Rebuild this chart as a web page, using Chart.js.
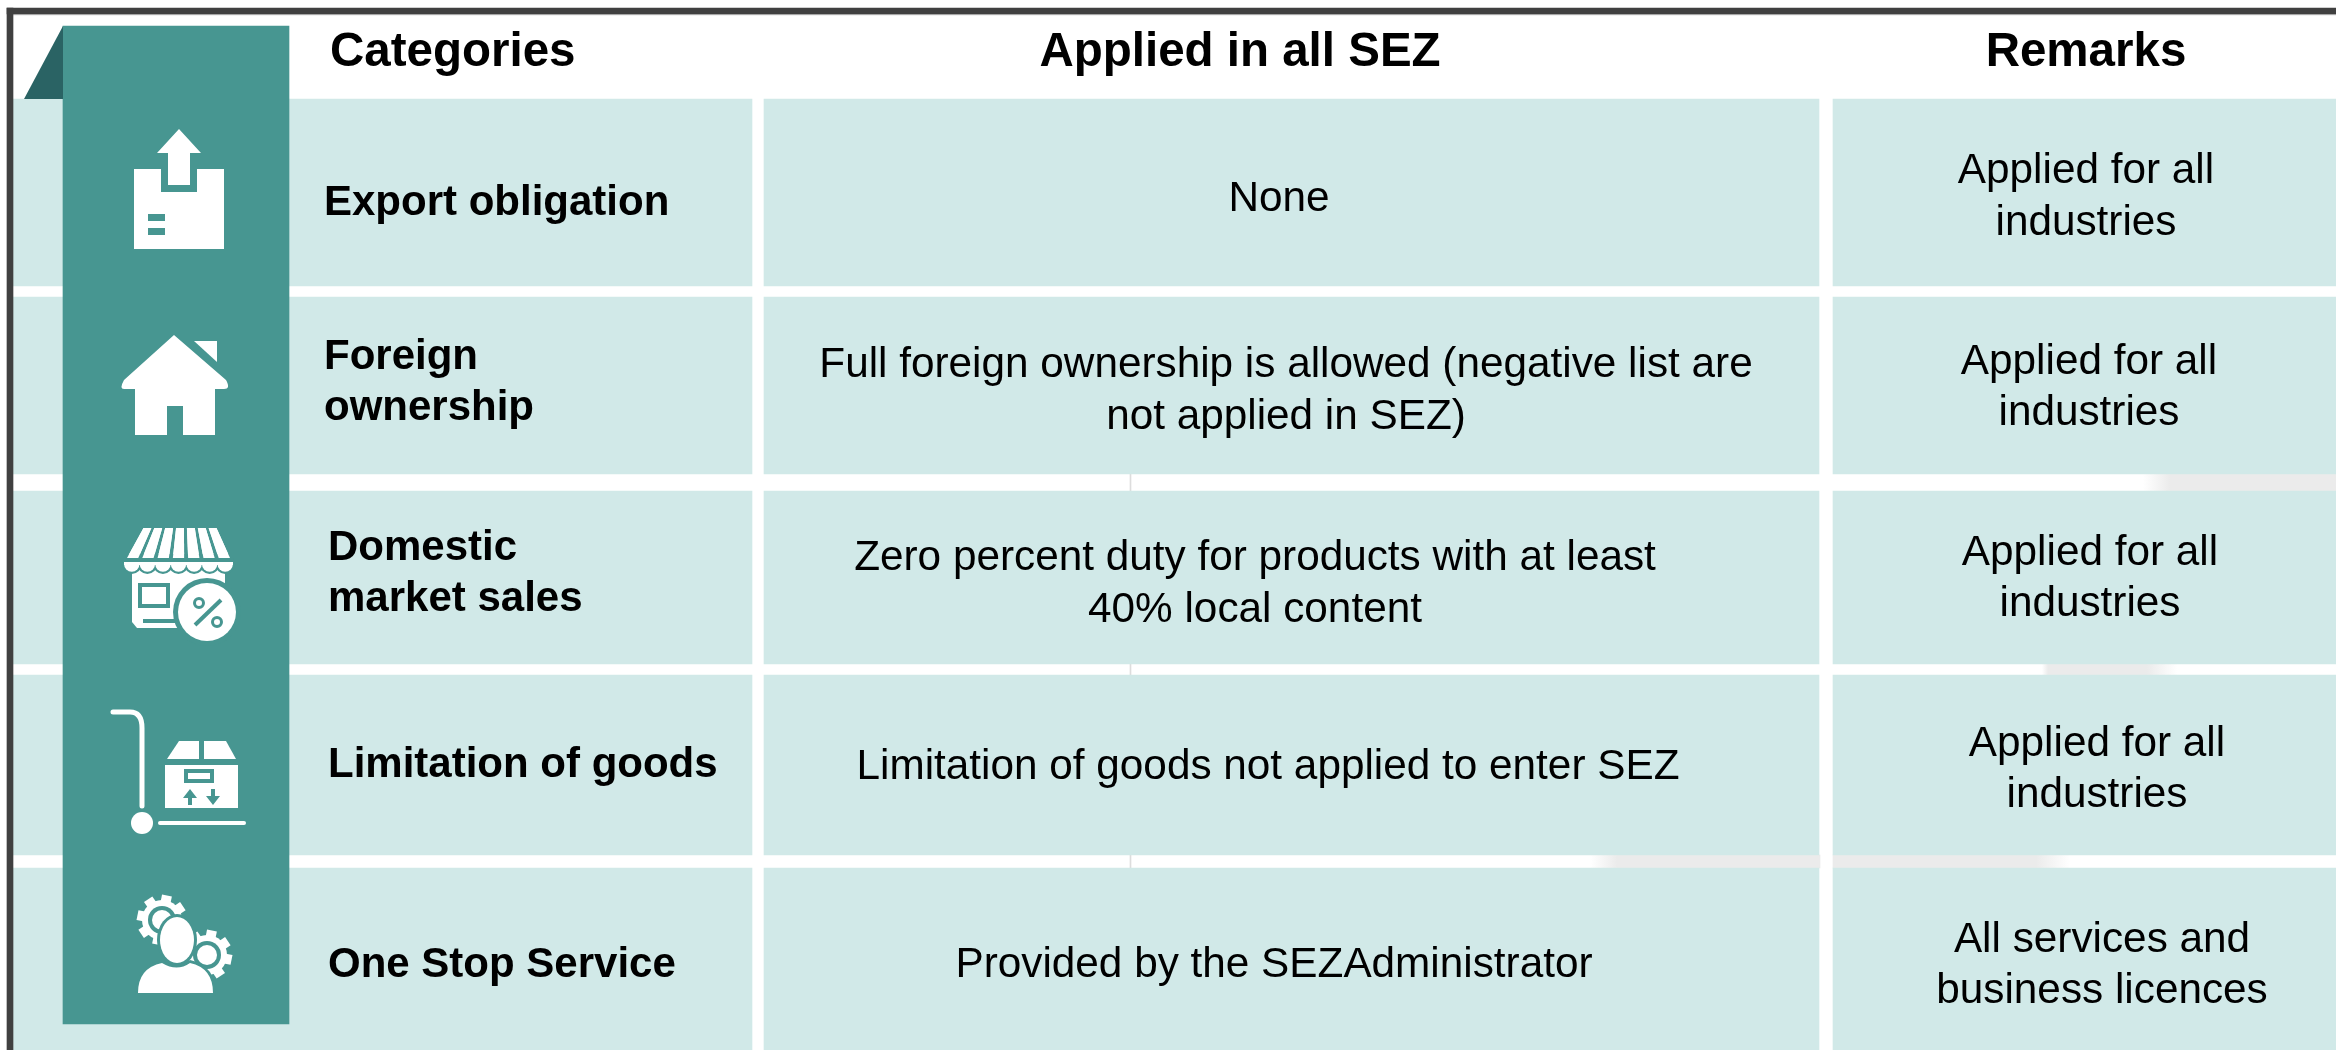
<!DOCTYPE html>
<html>
<head>
<meta charset="utf-8">
<title>SEZ categories</title>
<script src="https://cdn.jsdelivr.net/npm/chart.js@4"></script>
<style>
  html, body { margin: 0; padding: 0; background: #fff; overflow: hidden; }
  #wrap { width: 2336px; height: 1050px; }
</style>
</head>
<body>
<div id="wrap"><canvas id="myChart" width="2336" height="1050"></canvas></div>
<script>
// ----- table content -----
const headers = ['Categories', 'Applied in all SEZ', 'Remarks'];
const categories = [
  ['Export obligation'],
  ['Foreign', 'ownership'],
  ['Domestic', 'market sales'],
  ['Limitation of goods'],
  ['One Stop Service']
];
const appliedInAllSez = [
  ['None'],
  ['Full foreign ownership is allowed (negative list are', 'not applied in SEZ)'],
  ['Zero percent duty for products with at least', '40% local content'],
  ['Limitation of goods not applied to enter SEZ'],
  ['Provided by the SEZAdministrator']
];
const remarks = [
  ['Applied for all', 'industries'],
  ['Applied for all', 'industries'],
  ['Applied for all', 'industries'],
  ['Applied for all', 'industries'],
  ['All services and', 'business licences']
];

// ----- layout (scale units = pixels of the page) -----
const rowTop = [99, 297, 491, 675, 868];
const rowBottom = [286, 474, 664, 855, 1050];
const colLeft = [13, 764, 1833];
const colRight = [752, 1819, 2336];
const categoryX = [324, 324, 328, 328, 328];
const categoryY = [[215], [369, 420], [560, 611], [777], [977]];
const appliedX = [1279, 1286, 1255, 1268, 1274];
const appliedY = [[211], [377, 429], [570, 622], [779], [977]];
const remarksX = [2086, 2089, 2090, 2097, 2102];
const remarksY = [[183, 235], [374, 425], [565, 616], [756, 807], [952, 1003]];
const headerX = [330, 1240, 2086];
const headerY = 66;

const CELL = '#d1e9e8', RIBBON = '#479691', FOLD = '#2a6364', FRAME = '#404040', SMUDGE = '#ebebeb';

const canvas = document.getElementById('myChart');
const context = canvas.getContext('2d');

// one floating horizontal bar
function band(x0, x1, y0, y1, color) {
  return {
    data: [{x: [x0, x1], y: (y0 + y1) / 2}],
    barThickness: y1 - y0,
    backgroundColor: color,
    borderWidth: 0
  };
}

// grey band fading out at its ends
function smudge(x0, x1, fadeLeft, fadeRight) {
  const g = context.createLinearGradient(x0, 0, x1, 0);
  const w = x1 - x0;
  g.addColorStop(0, fadeLeft ? '#ffffff' : SMUDGE);
  g.addColorStop(fadeLeft / w, SMUDGE);
  g.addColorStop(1 - fadeRight / w, SMUDGE);
  g.addColorStop(1, fadeRight ? '#ffffff' : SMUDGE);
  return g;
}

// first dataset ends up on top
const datasets = [];
datasets.push(band(63, 289, 26, 1024, RIBBON));
datasets.push(band(7, 13, 8, 1050, FRAME));
datasets.push(band(7, 2336, 8, 14, FRAME));
datasets.push(band(13, 2336, 14, 15, '#c8c8c8'));
rowTop.forEach((top, r) => {
  colLeft.forEach((left, c) => datasets.push(band(left, colRight[c], top, rowBottom[r], CELL)));
});
// faint marks left in the gaps between rows
datasets.push(band(2143, 2336, 474, 491, smudge(2143, 2336, 27, 0)));
datasets.push(band(2042, 2177, 664, 675, smudge(2042, 2177, 6, 30)));
datasets.push(band(1591, 1820, 855, 868, smudge(1591, 1820, 26, 0)));
datasets.push(band(1833, 2070, 855, 868, smudge(1833, 2070, 0, 34)));
[[474, 491], [664, 675], [855, 868]].forEach(g => datasets.push(band(1130, 1131, g[0], g[1], '#dddddd')));

// ----- small drawing helpers for the icons -----
function poly(ctx, pts, color) {
  ctx.fillStyle = color;
  ctx.beginPath();
  pts.forEach((p, i) => i ? ctx.lineTo(p[0], p[1]) : ctx.moveTo(p[0], p[1]));
  ctx.closePath();
  ctx.fill();
}
function rect(ctx, x0, y0, x1, y1, color) {
  ctx.fillStyle = color;
  ctx.fillRect(x0, y0, x1 - x0, y1 - y0);
}
function circle(ctx, x, y, r, color) {
  ctx.fillStyle = color;
  ctx.beginPath();
  ctx.arc(x, y, r, 0, Math.PI * 2);
  ctx.fill();
}
function gear(ctx, cx, cy) {
  for (let i = 0; i < 8; i++) {
    ctx.save();
    ctx.translate(cx, cy);
    ctx.rotate(i * Math.PI / 4 + 0.2);
    rect(ctx, -5, -25, 5, -17, '#fff');
    ctx.restore();
  }
  circle(ctx, cx, cy, 20, '#fff');
  circle(ctx, cx, cy, 14, RIBBON);
  circle(ctx, cx, cy, 10, '#fff');
}
function person(ctx, grow, color) {
  ctx.fillStyle = color;
  ctx.beginPath();
  ctx.ellipse(177, 940, 17 + grow, 23 + grow, 0, 0, Math.PI * 2);
  ctx.fill();
  ctx.beginPath();
  ctx.moveTo(138 - grow, 993 + grow);
  ctx.quadraticCurveTo(138 - grow, 968 - grow, 162, 963 - grow);
  ctx.quadraticCurveTo(177, 972 - grow, 190, 963 - grow);
  ctx.quadraticCurveTo(213 + grow, 968 - grow, 213 + grow, 993 + grow);
  ctx.closePath();
  ctx.fill();
}

function iconExport(ctx) {
  poly(ctx, [[134, 169], [161, 169], [161, 192], [197, 192], [197, 169], [224, 169], [224, 249], [134, 249]], '#fff');
  poly(ctx, [[179, 129], [201, 153], [190, 153], [190, 185], [168, 185], [168, 153], [157, 153]], '#fff');
  rect(ctx, 148, 214, 165, 221, RIBBON);
  rect(ctx, 148, 228, 165, 235, RIBBON);
}
function iconHouse(ctx) {
  ctx.fillStyle = '#fff';
  ctx.beginPath();
  ctx.moveTo(174, 335);
  ctx.lineTo(226, 380);
  ctx.quadraticCurveTo(231, 389, 224, 389);
  ctx.lineTo(215, 389);
  ctx.lineTo(215, 435);
  ctx.lineTo(183, 435);
  ctx.lineTo(183, 406);
  ctx.lineTo(167, 406);
  ctx.lineTo(167, 435);
  ctx.lineTo(135, 435);
  ctx.lineTo(135, 389);
  ctx.lineTo(124, 389);
  ctx.quadraticCurveTo(119, 389, 124, 380);
  ctx.closePath();
  ctx.fill();
  poly(ctx, [[194, 341], [217, 341], [217, 362]], '#fff');
}
function iconShop(ctx) {
  // awning stripes fan out from the top
  for (let i = 0; i < 7; i++) {
    const tw = 76 / 7, bw = 107 / 7;
    poly(ctx, [[142 + i * tw + 1.5, 528], [142 + (i + 1) * tw - 1.5, 528],
               [125 + (i + 1) * bw - 2, 558], [125 + i * bw + 2, 558]], '#fff');
  }
  // shop body, scallops cut into its top
  poly(ctx, [[132, 568], [225, 568], [225, 628], [137, 628], [132, 622]], '#fff');
  const sw = 109 / 7;
  for (let i = 0; i < 7; i++) circle(ctx, 124 + (i + 0.5) * sw, 564, 10, RIBBON);
  for (let i = 0; i < 7; i++) circle(ctx, 124 + (i + 0.5) * sw, 564, 7.7, '#fff');
  rect(ctx, 124, 554, 233, 562, RIBBON);
  // repaint stripe ends above the scallop strip
  for (let i = 0; i < 7; i++) {
    const tw = 76 / 7, bw = 107 / 7;
    poly(ctx, [[142 + i * tw + 1.5, 528], [142 + (i + 1) * tw - 1.5, 528],
               [125 + (i + 1) * bw - 2, 558], [125 + i * bw + 2, 558]], '#fff');
  }
  rect(ctx, 124, 562, 233, 565, '#fff');
  // window and slot
  rect(ctx, 138, 583, 170, 608, RIBBON);
  rect(ctx, 142, 587, 166, 604, '#fff');
  rect(ctx, 143, 619, 180, 623, RIBBON);
  // percent badge
  circle(ctx, 207, 612, 34, RIBBON);
  circle(ctx, 207, 612, 29, '#fff');
  ctx.strokeStyle = RIBBON;
  ctx.lineWidth = 4;
  ctx.beginPath();
  ctx.moveTo(195, 625);
  ctx.lineTo(221, 600);
  ctx.stroke();
  ctx.lineWidth = 3;
  ctx.beginPath();
  ctx.arc(199, 603, 4.5, 0, Math.PI * 2);
  ctx.stroke();
  ctx.beginPath();
  ctx.arc(217, 622, 4.5, 0, Math.PI * 2);
  ctx.stroke();
}
function iconCart(ctx) {
  ctx.strokeStyle = '#fff';
  ctx.lineCap = 'round';
  ctx.lineWidth = 5;
  ctx.beginPath();
  ctx.moveTo(113, 712);
  ctx.lineTo(130, 712);
  ctx.quadraticCurveTo(142, 712, 142, 728);
  ctx.lineTo(142, 806);
  ctx.stroke();
  ctx.lineWidth = 4;
  ctx.beginPath();
  ctx.moveTo(160, 823);
  ctx.lineTo(244, 823);
  ctx.stroke();
  ctx.lineCap = 'butt';
  circle(ctx, 142, 823, 11, '#fff');
  poly(ctx, [[179, 741], [199, 741], [199, 759], [167, 759]], '#fff');
  poly(ctx, [[204, 741], [226, 741], [236, 759], [204, 759]], '#fff');
  rect(ctx, 165, 765, 238, 808, '#fff');
  rect(ctx, 184, 769, 214, 783, RIBBON);
  rect(ctx, 188, 773, 210, 779, '#fff');
  poly(ctx, [[190, 789], [197, 798], [192, 798], [192, 805], [188, 805], [188, 798], [183, 798]], RIBBON);
  poly(ctx, [[213, 805], [206, 796], [211, 796], [211, 789], [215, 789], [215, 796], [220, 796]], RIBBON);
}
function iconService(ctx) {
  gear(ctx, 162, 920);
  gear(ctx, 207, 955);
  person(ctx, 3, RIBBON);
  person(ctx, 0, '#fff');
}

// ----- plugin for the fold, the icons and the cell texts -----
const tablePlugin = {
  id: 'tablePlugin',
  afterDatasetsDraw(chart) {
    const ctx = chart.ctx;
    const sx = chart.scales.x, sy = chart.scales.y;
    ctx.save();
    // dark fold behind the ribbon top
    poly(ctx, [[sx.getPixelForValue(63), sy.getPixelForValue(26)],
               [sx.getPixelForValue(24), sy.getPixelForValue(99)],
               [sx.getPixelForValue(63), sy.getPixelForValue(99)]], FOLD);
    iconExport(ctx);
    iconHouse(ctx);
    iconShop(ctx);
    iconCart(ctx);
    iconService(ctx);

    ctx.fillStyle = '#000';
    ctx.textBaseline = 'alphabetic';

    ctx.font = 'bold 47.5px "Liberation Sans"';
    headers.forEach((h, i) => {
      ctx.textAlign = i === 0 ? 'left' : 'center';
      ctx.fillText(h, sx.getPixelForValue(headerX[i]), sy.getPixelForValue(headerY));
    });

    ctx.font = 'bold 42px "Liberation Sans"';
    ctx.textAlign = 'left';
    categories.forEach((lines, r) => lines.forEach((t, l) => {
      ctx.fillText(t, sx.getPixelForValue(categoryX[r]), sy.getPixelForValue(categoryY[r][l]));
    }));

    ctx.font = '42.3px "Liberation Sans"';
    ctx.textAlign = 'center';
    appliedInAllSez.forEach((lines, r) => lines.forEach((t, l) => {
      ctx.fillText(t, sx.getPixelForValue(appliedX[r]), sy.getPixelForValue(appliedY[r][l]));
    }));
    remarks.forEach((lines, r) => lines.forEach((t, l) => {
      ctx.fillText(t, sx.getPixelForValue(remarksX[r]), sy.getPixelForValue(remarksY[r][l]));
    }));
    ctx.restore();
  }
};

const myChart = new Chart(context, {
  type: 'bar',
  data: {datasets: datasets},
  plugins: [tablePlugin],
  options: {
    indexAxis: 'y',
    responsive: false,
    animation: false,
    grouped: false,
    layout: {padding: 0},
    plugins: {legend: {display: false}, title: {display: false}, tooltip: {enabled: false}},
    scales: {
      x: {type: 'linear', min: 0, max: 2336, offset: false, display: false},
      y: {type: 'linear', min: 0, max: 1050, offset: false, reverse: true, display: false}
    }
  }
});
</script>
</body>
</html>
